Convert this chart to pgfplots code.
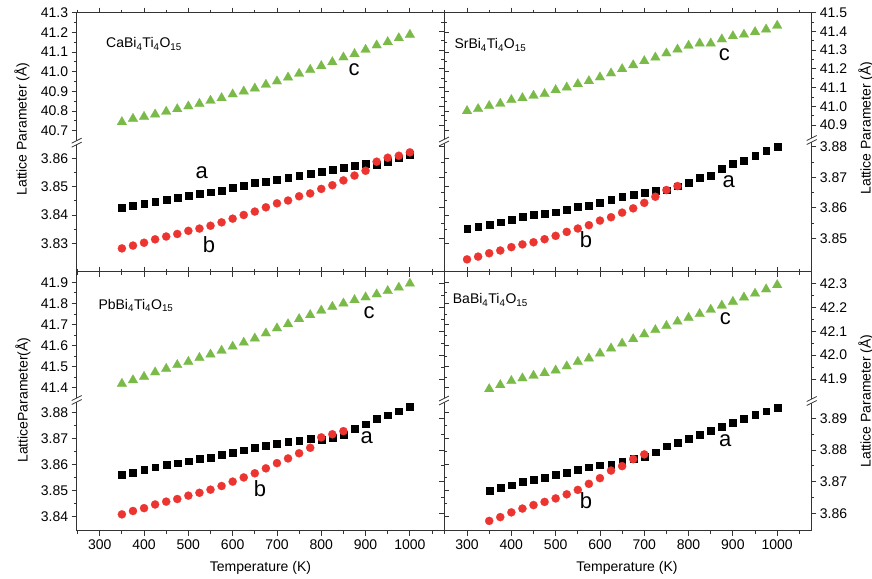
\documentclass[border=0pt]{standalone}
\usepackage{fontspec}
\setmainfont{Liberation Sans}
\usepackage{pgfplots}
\pgfplotsset{compat=1.18}
\definecolor{mred}{RGB}{236,52,48}
\definecolor{mgreen}{RGB}{122,186,72}
\pgfplotsset{
 panel/.style={scale only axis, width=367.3pt, xmin=248, xmax=1077,
   axis line style={draw=none}, tick align=outside,
   major tick length=5pt, minor tick length=3pt,
   every tick/.append style={line width=0.8pt, black!80},
   xtick={300,400,...,1000}, minor xtick={250,350,...,1050},
   minor y tick num=1,
   tick label style={font=\fontsize{14}{16}\selectfont},
   /pgf/number format/assume math mode=true,
   /pgf/number format/1000 sep={},
   ytick pos=both, clip=false, anchor=south west},
 up/.style={xtick pos=right, xticklabels={},
   yticklabel style={/pgf/number format/fixed, /pgf/number format/fixed zerofill, /pgf/number format/precision=1}},
 low/.style={xtick pos=left,
   yticklabel style={/pgf/number format/fixed, /pgf/number format/fixed zerofill, /pgf/number format/precision=2}},
 sq/.style={only marks, color=black, mark=square*, mark size=3.4pt, mark options={solid, draw=black, fill=black, line width=0.2pt}},
 ci/.style={only marks, color=mred, mark=*, mark size=4.1pt, mark options={solid, draw=mred, fill=mred, line width=0.2pt}},
 tr/.style={only marks, color=mgreen, mark=triangle*, mark size=5.6pt, mark options={solid, draw=mgreen, fill=mgreen, line width=0.2pt}},
}
\newcommand\brk[2]{%
  \fill[white] (#1-5,#2+4.5) -- (#1+5,#2-0.5) -- (#1+5,#2-4.5) -- (#1-5,#2+0.5) -- cycle;
  \draw[line width=0.8pt, black!80] (#1-5,#2+4.5) -- (#1+5,#2-0.5) (#1-5,#2+0.5) -- (#1+5,#2-4.5);}
\begin{document}
\begin{tikzpicture}
\useasboundingbox (0,0) rectangle (872pt,578pt);
% ---------------- Ca (top left) ----------------
\begin{axis}[panel, up, at={(76.7pt,435.3pt)}, height=130pt, ymin=40.639, ymax=41.3,
  ytick={40.7,40.8,40.9,41.0,41.1,41.2,41.3}, yticklabel pos=left]
\addplot[tr] coordinates {(350,40.744)(375,40.761)(400,40.771)(425,40.783)(450,40.797)(475,40.810)(500,40.824)(525,40.837)(550,40.853)(575,40.866)(600,40.885)(625,40.900)(650,40.915)(675,40.934)(700,40.951)(725,40.971)(750,40.990)(775,41.010)(800,41.029)(825,41.049)(850,41.073)(875,41.090)(900,41.112)(925,41.134)(950,41.151)(975,41.171)(1000,41.188)};
\end{axis}
\begin{axis}[panel, low, at={(76.7pt,306.3pt)}, height=129pt, ymin=3.81998, ymax=3.86551,
  ytick={3.83,3.84,3.85,3.86}, xticklabels={}, yticklabel pos=left]
\addplot[sq] coordinates {(350,3.8427)(375,3.8433)(400,3.8440)(425,3.8447)(450,3.8454)(475,3.8461)(500,3.8469)(525,3.8476)(550,3.8481)(575,3.8487)(600,3.8496)(625,3.8505)(650,3.8513)(675,3.8519)(700,3.8525)(725,3.8532)(750,3.8539)(775,3.8547)(800,3.8553)(825,3.8561)(850,3.8568)(875,3.8575)(900,3.8581)(925,3.8577)(950,3.8589)(975,3.8601)(1000,3.8614)};
\addplot[ci] coordinates {(350,3.8282)(375,3.8292)(400,3.8302)(425,3.8314)(450,3.8324)(475,3.8333)(500,3.8344)(525,3.8352)(550,3.8362)(575,3.8374)(600,3.8387)(625,3.8400)(650,3.8412)(675,3.8427)(700,3.8441)(725,3.8451)(750,3.8466)(775,3.8476)(800,3.8492)(825,3.8505)(850,3.8522)(875,3.8539)(900,3.8556)(925,3.8588)(950,3.8602)(975,3.8609)(1000,3.8621)};
\end{axis}
% ---------------- Sr (top right) ----------------
\begin{axis}[panel, up, at={(444pt,438pt)}, height=127.3pt, ymin=40.8199, ymax=41.5,
  ytick={40.9,41.0,41.1,41.2,41.3,41.4,41.5}, yticklabel pos=right]
\addplot[tr] coordinates {(300,40.975)(325,40.986)(350,41.002)(375,41.014)(400,41.034)(425,41.044)(450,41.057)(475,41.066)(500,41.087)(525,41.101)(550,41.119)(575,41.135)(600,41.155)(625,41.176)(650,41.199)(675,41.220)(700,41.242)(725,41.261)(750,41.283)(775,41.304)(800,41.324)(825,41.336)(850,41.336)(875,41.358)(900,41.375)(925,41.383)(950,41.397)(975,41.411)(1000,41.431)};
\end{axis}
\begin{axis}[panel, low, at={(444pt,306.3pt)}, height=131.7pt, ymin=3.83906, ymax=3.88219,
  ytick={3.85,3.86,3.87,3.88}, xticklabels={}, yticklabel pos=right]
\addplot[sq] coordinates {(300,3.8533)(325,3.8539)(350,3.8546)(375,3.8553)(400,3.8561)(425,3.8570)(450,3.8577)(475,3.8581)(500,3.8586)(525,3.8594)(550,3.8604)(575,3.8608)(600,3.8617)(625,3.8628)(650,3.8636)(675,3.8642)(700,3.8649)(725,3.8656)(750,3.8658)(775,3.8671)(800,3.8683)(825,3.8699)(850,3.8706)(875,3.8729)(900,3.8745)(925,3.8754)(950,3.8771)(975,3.8787)(1000,3.8800)};
\addplot[ci] coordinates {(300,3.8431)(325,3.8440)(350,3.8451)(375,3.8460)(400,3.8471)(425,3.8480)(450,3.8487)(475,3.8497)(500,3.8508)(525,3.8521)(550,3.8532)(575,3.8543)(600,3.8558)(625,3.8569)(650,3.8584)(675,3.8598)(700,3.8616)(725,3.8636)(750,3.8658)(775,3.8671)};
\end{axis}
% ---------------- Pb (bottom left) ----------------
\begin{axis}[panel, up, at={(76.7pt,178pt)}, height=128.3pt, ymin=41.3417, ymax=41.9503,
  ytick={41.4,41.5,41.6,41.7,41.8,41.9}, yticklabel pos=left]
\addplot[tr] coordinates {(350,41.419)(375,41.436)(400,41.452)(425,41.473)(450,41.490)(475,41.508)(500,41.523)(525,41.542)(550,41.558)(575,41.576)(600,41.595)(625,41.614)(650,41.634)(675,41.658)(700,41.682)(725,41.702)(750,41.726)(775,41.745)(800,41.766)(825,41.784)(850,41.800)(875,41.816)(900,41.829)(925,41.843)(950,41.859)(975,41.875)(1000,41.894)};
\end{axis}
\begin{axis}[panel, low, at={(76.7pt,47.3pt)}, height=130.7pt, ymin=3.83462, ymax=3.88488,
  ytick={3.84,3.85,3.86,3.87,3.88}, yticklabel pos=left]
\addplot[sq] coordinates {(350,3.8563)(375,3.8571)(400,3.8581)(425,3.8591)(450,3.8599)(475,3.8606)(500,3.8614)(525,3.8622)(550,3.8628)(575,3.8638)(600,3.8647)(625,3.8656)(650,3.8667)(675,3.8674)(700,3.8682)(725,3.8690)(750,3.8694)(775,3.8699)(800,3.8695)(825,3.8703)(850,3.8717)(875,3.8740)(900,3.8756)(925,3.8776)(950,3.8791)(975,3.8806)(1000,3.8822)};
\addplot[ci] coordinates {(350,3.8409)(375,3.8422)(400,3.8433)(425,3.8447)(450,3.8458)(475,3.8468)(500,3.8481)(525,3.8492)(550,3.8504)(575,3.8518)(600,3.8535)(625,3.8551)(650,3.8567)(675,3.8586)(700,3.8606)(725,3.8624)(750,3.8644)(775,3.8665)(800,3.8705)(825,3.8717)(850,3.8729)};
\end{axis}
% ---------------- Ba (bottom right) ----------------
\begin{axis}[panel, up, at={(444pt,177pt)}, height=129.3pt, ymin=41.808, ymax=42.3485,
  ytick={41.9,42.0,42.1,42.2,42.3}, yticklabel pos=right]
\addplot[tr] coordinates {(350,41.858)(375,41.875)(400,41.892)(425,41.903)(450,41.914)(475,41.925)(500,41.936)(525,41.953)(550,41.972)(575,41.986)(600,42.007)(625,42.028)(650,42.048)(675,42.067)(700,42.087)(725,42.105)(750,42.122)(775,42.140)(800,42.156)(825,42.172)(850,42.190)(875,42.207)(900,42.223)(925,42.241)(950,42.257)(975,42.275)(1000,42.293)};
\end{axis}
\begin{axis}[panel, low, at={(444pt,47.3pt)}, height=129.7pt, ymin=3.85451, ymax=3.89546,
  ytick={3.86,3.87,3.88,3.89}, yticklabel pos=right]
\addplot[sq] coordinates {(350,3.8671)(375,3.8681)(400,3.8689)(425,3.8699)(450,3.8707)(475,3.8714)(500,3.8721)(525,3.8729)(550,3.8738)(575,3.8746)(600,3.8752)(625,3.8755)(650,3.8763)(675,3.8772)(700,3.8779)(725,3.8793)(750,3.8812)(775,3.8824)(800,3.8835)(825,3.8849)(850,3.8861)(875,3.8874)(900,3.8887)(925,3.8898)(950,3.8911)(975,3.8923)(1000,3.8934)};
\addplot[ci] coordinates {(350,3.8576)(375,3.8588)(400,3.8603)(425,3.8615)(450,3.8626)(475,3.8636)(500,3.8647)(525,3.8660)(550,3.8674)(575,3.8693)(600,3.8711)(625,3.8735)(650,3.8749)(675,3.8771)(700,3.8786)};
\end{axis}
% ---------------- frame, breaks, texts (pixel coordinates) ----------------
\begin{scope}[x=1pt, y=-1pt, yshift=578pt]
  \draw[line width=0.9pt, black!80] (76.7,12.7) rectangle (811.7,530.7);
  \draw[line width=0.9pt, black!80] (444,12.7) -- (444,530.7);
  \draw[line width=0.9pt, black!80] (76.7,271.7) -- (811.7,271.7);
  \brk{76.7}{142.7}\brk{444}{141.5}\brk{811.7}{140}
  \brk{76.7}{400}\brk{444}{400.5}\brk{811.7}{401}
  \begin{scope}[every node/.style={font=\fontsize{14}{16}\selectfont, inner sep=0pt}]
    \node[rotate=90] at (22,129) {Lattice Parameter (Å)};
    \node[rotate=90] at (23,400) {LatticeParameter(Å)};
    \node[rotate=90] at (866,128) {Lattice Parameter (Å)};
    \node[rotate=90] at (866,401) {Lattice Parameter (Å)};
    \node at (260.5,568) {Temperature (K)};
    \node at (627,568) {Temperature (K)};
    \node[anchor=west] at (106,44) {CaBi\textsubscript{4}Ti\textsubscript{4}O\textsubscript{15}};
    \node[anchor=west] at (454.3,45) {SrBi\textsubscript{4}Ti\textsubscript{4}O\textsubscript{15}};
    \node[anchor=west] at (98.3,305.7) {PbBi\textsubscript{4}Ti\textsubscript{4}O\textsubscript{15}};
    \node[anchor=west] at (452.7,300) {BaBi\textsubscript{4}Ti\textsubscript{4}O\textsubscript{15}};
  \end{scope}
  \begin{scope}[every node/.style={font=\fontsize{22}{24}\selectfont, inner sep=0pt, anchor=base}]
    \node at (201.7,178.3) {a}; \node at (209,252.3) {b}; \node at (354,76) {c};
    \node at (728.7,187.7) {a}; \node at (586,247.3) {b}; \node at (724.3,61) {c};
    \node at (366.7,443.3) {a}; \node at (260,496.7) {b}; \node at (369,319) {c};
    \node at (725.3,446.7) {a}; \node at (586,509) {b}; \node at (725.3,325) {c};
  \end{scope}
\end{scope}
\end{tikzpicture}
\end{document}
